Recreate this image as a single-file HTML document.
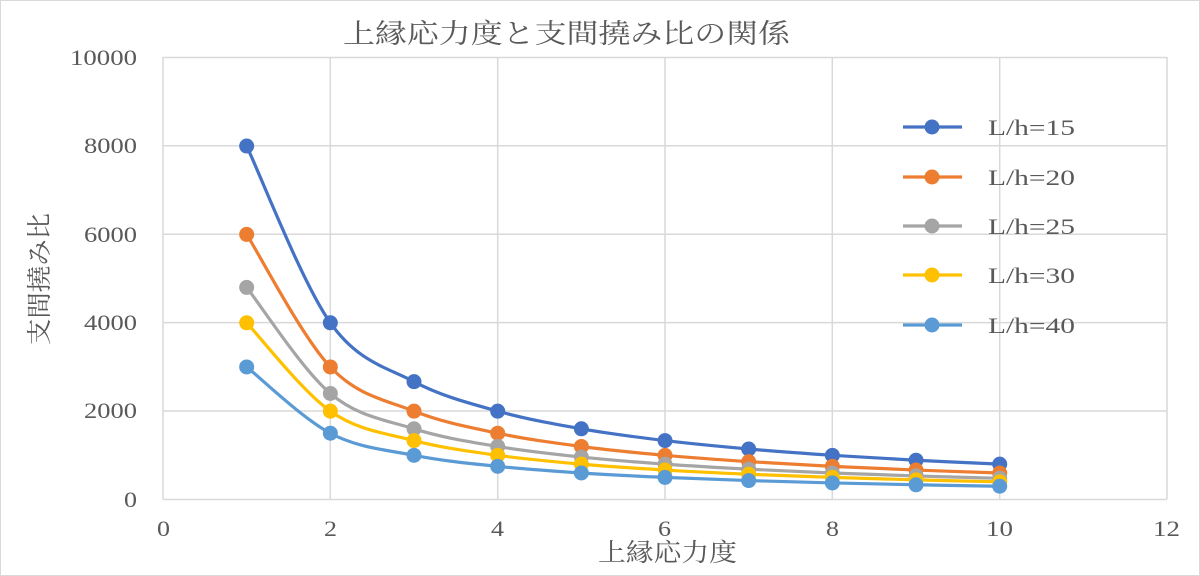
<!DOCTYPE html>
<html><head><meta charset="utf-8"><style>
html,body{margin:0;padding:0;background:#fff;}
svg{display:block;}
text{font-family:"Liberation Serif","Noto Serif CJK SC","Noto Sans CJK JP",serif;fill:#595959;}
</style></head><body>
<svg id="s" width="1200" height="576" viewBox="0 0 1200 576">
<rect x="0.5" y="0.5" width="1199" height="575" fill="#fff" stroke="#d9d9d9"/>
<g stroke="#d9d9d9" stroke-width="1.5">
<line x1="163" y1="57.5" x2="1167" y2="57.5"/>
<line x1="163" y1="145.8" x2="1167" y2="145.8"/>
<line x1="163" y1="234.2" x2="1167" y2="234.2"/>
<line x1="163" y1="322.6" x2="1167" y2="322.6"/>
<line x1="163" y1="411" x2="1167" y2="411"/>
<line x1="330.3" y1="57" x2="330.3" y2="499"/>
<line x1="497.7" y1="57" x2="497.7" y2="499"/>
<line x1="665" y1="57" x2="665" y2="499"/>
<line x1="832.3" y1="57" x2="832.3" y2="499"/>
<line x1="999.7" y1="57" x2="999.7" y2="499"/>
<line x1="1167" y1="57" x2="1167" y2="499"/>
<line x1="163" y1="57" x2="163" y2="499.5"/>
<line x1="163" y1="499.5" x2="1167" y2="499.5"/>
</g>
<g font-size="22">
<text x="70" y="65" textLength="67" lengthAdjust="spacingAndGlyphs">10000</text>
<text x="84" y="153" textLength="53" lengthAdjust="spacingAndGlyphs">8000</text>
<text x="84" y="242" textLength="53" lengthAdjust="spacingAndGlyphs">6000</text>
<text x="84" y="330" textLength="53" lengthAdjust="spacingAndGlyphs">4000</text>
<text x="84" y="418" textLength="53" lengthAdjust="spacingAndGlyphs">2000</text>
<text x="124" y="507" textLength="13" lengthAdjust="spacingAndGlyphs">0</text>
</g>
<g font-size="22">
<text x="157" y="536" textLength="13" lengthAdjust="spacingAndGlyphs">0</text>
<text x="324" y="536" textLength="13" lengthAdjust="spacingAndGlyphs">2</text>
<text x="491" y="536" textLength="13" lengthAdjust="spacingAndGlyphs">4</text>
<text x="658" y="536" textLength="13" lengthAdjust="spacingAndGlyphs">6</text>
<text x="826" y="536" textLength="13" lengthAdjust="spacingAndGlyphs">8</text>
<text x="986" y="536" textLength="27" lengthAdjust="spacingAndGlyphs">10</text>
<text x="1153" y="536" textLength="27" lengthAdjust="spacingAndGlyphs">12</text>
</g>
<text x="343" y="43" font-size="27" textLength="447" lengthAdjust="spacingAndGlyphs">上縁応力度と支間撓み比の関係</text>
<text x="598" y="561" font-size="25" textLength="139" lengthAdjust="spacingAndGlyphs">上縁応力度</text>
<text transform="translate(48,345) rotate(-90)" font-size="25" textLength="132" lengthAdjust="spacingAndGlyphs">支間撓み比</text>
<g id="series"></g>
<g font-size="22">
<text x="988" y="135" textLength="87" lengthAdjust="spacingAndGlyphs">L/h=15</text>
<text x="988" y="185" textLength="87" lengthAdjust="spacingAndGlyphs">L/h=20</text>
<text x="988" y="234" textLength="87" lengthAdjust="spacingAndGlyphs">L/h=25</text>
<text x="988" y="283" textLength="87" lengthAdjust="spacingAndGlyphs">L/h=30</text>
<text x="988" y="333" textLength="87" lengthAdjust="spacingAndGlyphs">L/h=40</text>
</g>
</svg>
<script>
var S=[[8000,"#4472c4"],[6000,"#ed7d31"],[4800,"#a5a5a5"],[4000,"#ffc000"],[3000,"#5b9bd5"]];
var ly=[127,177,226,275,325];
var g=document.getElementById("series"),h="";
function X(x){return 163+x*83.67;}function Y(y){return 499.5-y*0.04418;}
S.forEach(function(s,k){
 var p=[];for(var i=1;i<=10;i++)p.push([X(i),Y(s[0]/i)]);
 var d="M"+p[0][0]+","+p[0][1];
 for(var i=0;i<p.length-1;i++){
  var p0=p[i-1]||p[i],p1=p[i],p2=p[i+1],p3=p[i+2]||p2;
  var c1=[p1[0]+(p2[0]-p0[0])/6,p1[1]+(p2[1]-p0[1])/6],c2=[p2[0]-(p3[0]-p1[0])/6,p2[1]-(p3[1]-p1[1])/6];
  d+=" C"+c1+" "+c2+" "+p2;
 }
 h+='<path d="'+d+'" fill="none" stroke="'+s[1]+'" stroke-width="3.2"/>';
 p.forEach(function(q){h+='<circle cx="'+q[0]+'" cy="'+q[1]+'" r="7.5" fill="'+s[1]+'"/>';});
 h+='<line x1="903" x2="962" y1="'+ly[k]+'" y2="'+ly[k]+'" stroke="'+s[1]+'" stroke-width="3.2"/><circle cx="932" cy="'+ly[k]+'" r="7.5" fill="'+s[1]+'"/>';
});
g.innerHTML=h;
</script>
</body></html>
